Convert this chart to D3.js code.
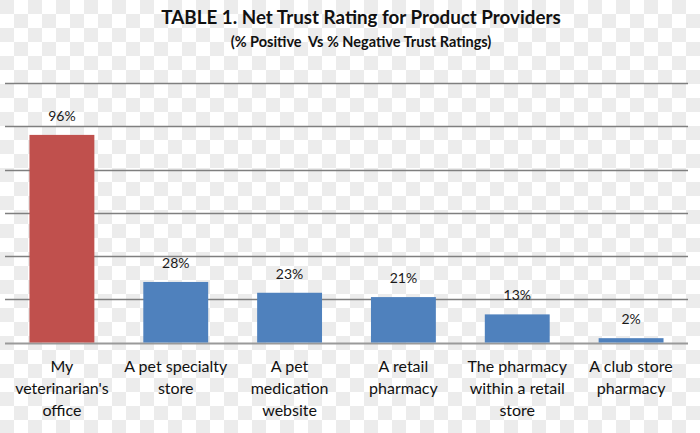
<!DOCTYPE html>
<html><head><meta charset="utf-8">
<script src="https://cdn.jsdelivr.net/npm/d3@7"></script>
<style>body{margin:0;background:#fff}svg{display:block}</style>
</head><body>
<svg id="c" width="700" height="433"></svg>
<script>
const categories = [
  ["My", "veterinarian's", "office"],
  ["A pet specialty", "store"],
  ["A pet", "medication", "website"],
  ["A retail", "pharmacy"],
  ["The pharmacy", "within a retail", "store"],
  ["A club store", "pharmacy"]
];
const values = [96, 28, 23, 21, 13, 2];
const valueLabels = ["96%", "28%", "23%", "21%", "13%", "2%"];
const colors = ["#C0504D", "#4F81BD", "#4F81BD", "#4F81BD", "#4F81BD", "#4F81BD"];
const gridTicks = [0, 20, 40, 60, 80, 100, 120];
const title = "TABLE 1. Net Trust Rating for Product Providers";
const subtitle = "(% Positive  Vs % Negative Trust Ratings)";

const svg = d3.select("#c");
const W = 700, H = 433;
const font = "Lato, 'Open Sans', sans-serif";

// checkered background
const defs = svg.append("defs");
const pat = defs.append("pattern").attr("id","chk").attr("patternUnits","userSpaceOnUse")
  .attr("width",28).attr("height",28);
pat.append("rect").attr("width",28).attr("height",28).attr("fill","#ffffff");
pat.append("rect").attr("width",14).attr("height",14).attr("fill","#ececec");
pat.append("rect").attr("x",14).attr("y",14).attr("width",14).attr("height",14).attr("fill","#ececec");
svg.append("rect").attr("width",W).attr("height",H).attr("fill","url(#chk)");

const x = d3.scaleBand().domain(d3.range(values.length)).range([5, 688]).paddingInner(0.43).paddingOuter(0.215);
const y = d3.scaleLinear().domain([0, 120]).range([342.5, 83]);

// gridlines
svg.append("g").selectAll("line").data(gridTicks).join("line")
  .attr("x1", 5).attr("x2", 688)
  .attr("y1", d => Math.round(y(d)) + 0.5).attr("y2", d => Math.round(y(d)) + 0.5)
  .attr("stroke", d => d === 0 ? "#9a9a9a" : "#7f7f7f")
  .attr("stroke-width", d => d === 0 ? 2 : 1.3);

// bars
svg.append("g").selectAll("rect").data(values).join("rect")
  .attr("x", (d,i) => x(i)).attr("width", x.bandwidth())
  .attr("y", d => y(d)).attr("height", d => y(0) - y(d))
  .attr("fill", (d,i) => colors[i]);

// value labels
svg.append("g").selectAll("text").data(values).join("text")
  .attr("x", (d,i) => x(i) + x.bandwidth()/2)
  .attr("y", d => y(d) - 14)
  .attr("text-anchor","middle")
  .attr("font-family", font).attr("font-size", 14).attr("fill","#1a1a1a")
  .text((d,i) => valueLabels[i]);

// category labels
const cg = svg.append("g").selectAll("text").data(categories).join("text")
  .attr("text-anchor","middle")
  .attr("font-family", font).attr("font-size", 16).attr("fill","#111");
cg.each(function(lines, i) {
  d3.select(this).selectAll("tspan").data(lines).join("tspan")
    .attr("x", x(i) + x.bandwidth()/2)
    .attr("y", (l, j) => 372 + j * 22)
    .text(l => l);
});

// titles
svg.append("text").attr("x", 361).attr("y", 24).attr("text-anchor","middle")
  .attr("font-family", font).attr("font-weight","bold").attr("font-size", 18.8).attr("fill","#111")
  .text(title);
svg.append("text").attr("x", 361).attr("y", 47).attr("text-anchor","middle")
  .attr("font-family", font).attr("font-weight","bold").attr("font-size", 14.5).attr("fill","#111")
  .attr("xml:space","preserve").style("white-space","pre")
  .text(subtitle);
</script>
</body></html>
